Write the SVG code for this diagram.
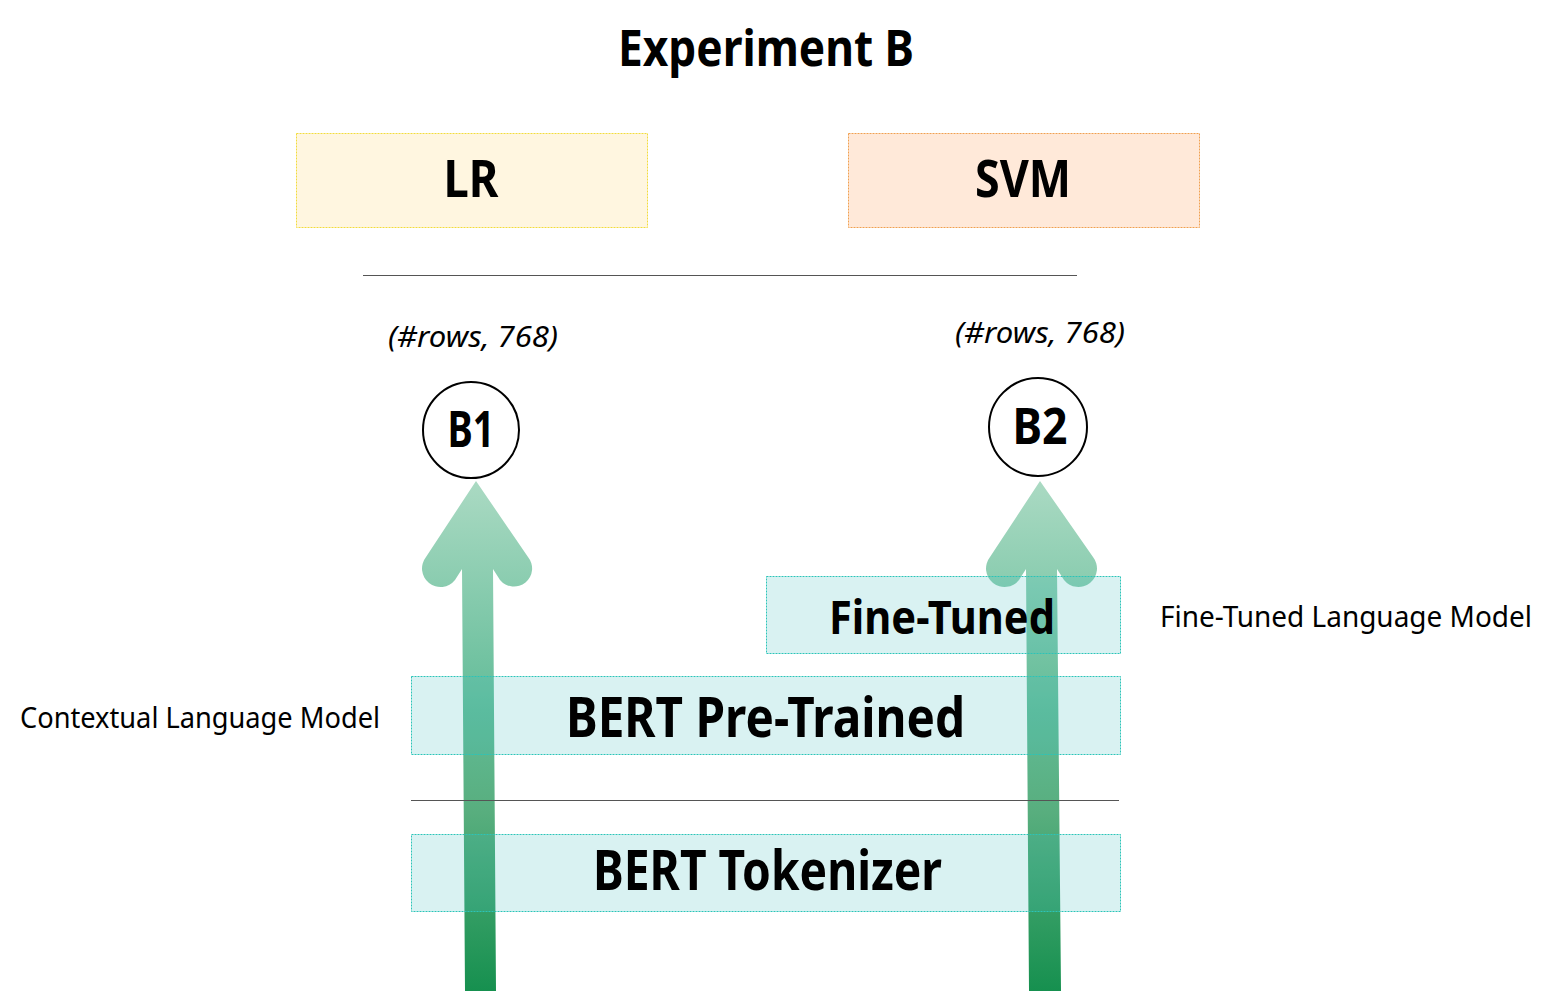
<svg xmlns="http://www.w3.org/2000/svg" width="1551" height="991" viewBox="0 0 1551 991">
<defs>
<linearGradient id="ag" gradientUnits="userSpaceOnUse" x1="0" y1="480" x2="0" y2="991">
<stop offset="0" stop-color="#ABDAC3"/>
<stop offset="0.45" stop-color="#62BC98"/>
<stop offset="0.65" stop-color="#58AE7E"/>
<stop offset="1" stop-color="#16904F"/>
</linearGradient>
<style>
.t{font-family:"Noto Sans","Open Sans","DejaVu Sans",sans-serif;fill:#000}
.b{font-weight:700}
.i{font-style:italic}
.layer{fill:#40C0C0;fill-opacity:0.2;stroke:#2CC4B8;stroke-width:1;stroke-dasharray:2 1}
.circ{fill:#fff;stroke:#000;stroke-width:2}
.arr{fill:url(#ag)}
.sep{stroke:#555;stroke-width:1}
</style>
</defs>
<rect width="1551" height="991" fill="#fff"/>

<text id="title" class="t b" x="766" y="66" font-size="50" text-anchor="middle" textLength="296" lengthAdjust="spacingAndGlyphs">Experiment B</text>

<g id="lr">
<rect x="296.5" y="133.5" width="351" height="94" fill="#FFF6E0" stroke="#F2DC3C" stroke-width="1" stroke-dasharray="2 1"/>
<text class="t b" x="471" y="197" font-size="52" text-anchor="middle" textLength="55" lengthAdjust="spacingAndGlyphs">LR</text>
</g>
<g id="svm">
<rect x="848.5" y="133.5" width="351" height="94" fill="#FFE9D9" stroke="#F0A050" stroke-width="1" stroke-dasharray="2 1"/>
<text class="t b" x="1023" y="197" font-size="52" text-anchor="middle" textLength="96" lengthAdjust="spacingAndGlyphs">SVM</text>
</g>

<line class="sep" x1="363" y1="275.5" x2="1077" y2="275.5"/>

<g id="b1">
<text class="t i" x="473" y="347" font-size="29" text-anchor="middle" textLength="170" lengthAdjust="spacingAndGlyphs">(#rows, 768)</text>
<circle class="circ" cx="471" cy="430" r="48"/>
<text class="t b" x="471" y="447" font-size="50" text-anchor="middle" textLength="47" lengthAdjust="spacingAndGlyphs">B1</text>
</g>
<g id="b2">
<text class="t i" x="1040" y="343" font-size="29" text-anchor="middle" textLength="170" lengthAdjust="spacingAndGlyphs">(#rows, 768)</text>
<circle class="circ" cx="1038" cy="427" r="49"/>
<text class="t b" x="1040" y="444" font-size="50" text-anchor="middle" textLength="55" lengthAdjust="spacingAndGlyphs">B2</text>
</g>

<g id="connectors">
<path class="arr" d="M476,481 L426,557 A17,17 0 0 0 455,580 L462,569 L465,991 L496,991 L493,569 L500,580 A17,17 0 0 0 528,557 Z"/>
<path class="arr" d="M1040,481 L990,557 A17,17 0 0 0 1019,580 L1026,569 L1029,991 L1061,991 L1057,569 L1064,580 A17,17 0 0 0 1093,557 Z"/>
</g>

<g id="finetuned">
<rect class="layer" x="766.5" y="576.5" width="354" height="77"/>
<text class="t b" x="942" y="634" font-size="46" text-anchor="middle" textLength="226" lengthAdjust="spacingAndGlyphs">Fine-Tuned</text>
</g>
<text id="ftlabel" class="t" x="1160" y="627" font-size="29" textLength="372" lengthAdjust="spacingAndGlyphs">Fine-Tuned Language Model</text>

<g id="pretrained">
<rect class="layer" x="411.5" y="676.5" width="709" height="78"/>
<text class="t b" x="765.5" y="737" font-size="55" text-anchor="middle" textLength="399" lengthAdjust="spacingAndGlyphs">BERT Pre-Trained</text>
</g>
<text id="cllabel" class="t" x="20" y="728" font-size="29" textLength="360" lengthAdjust="spacingAndGlyphs">Contextual Language Model</text>

<line class="sep" x1="411" y1="800.5" x2="1119" y2="800.5"/>

<g id="tokenizer">
<rect class="layer" x="411.5" y="834.5" width="709" height="77"/>
<text class="t b" x="767.5" y="890" font-size="55" text-anchor="middle" textLength="349" lengthAdjust="spacingAndGlyphs">BERT Tokenizer</text>
</g>
</svg>
